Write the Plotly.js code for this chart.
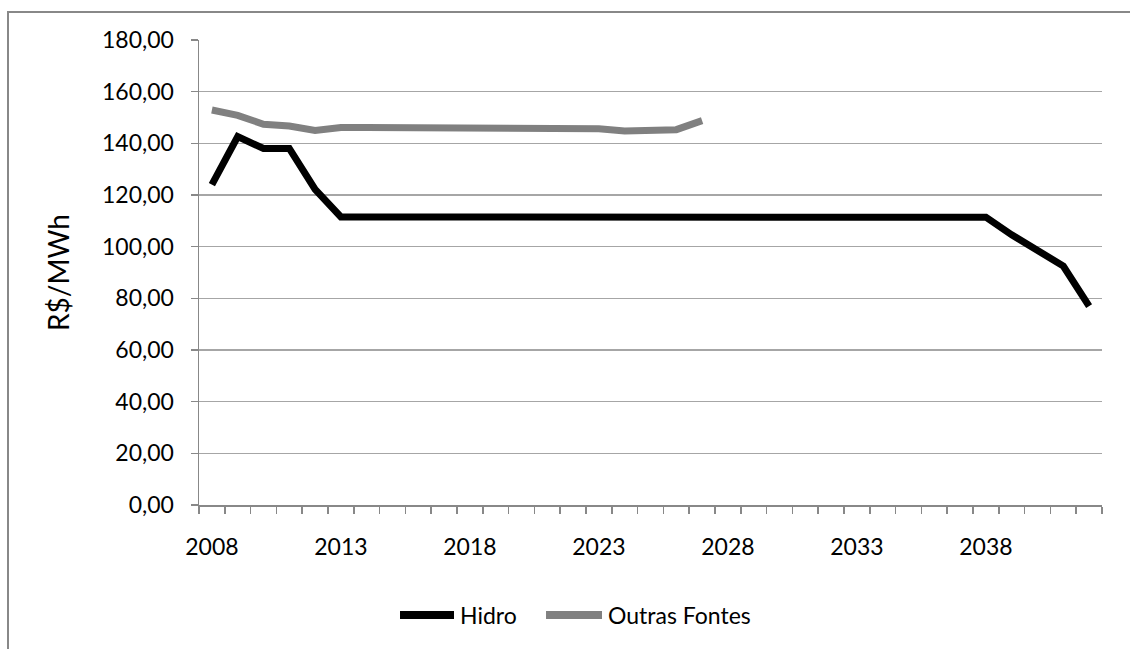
<!DOCTYPE html>
<html>
<head>
<meta charset="utf-8">
<script src="https://cdn.plot.ly/plotly-3.0.1.min.js"></script>
<style>
html,body{margin:0;padding:0;background:#fff;overflow:hidden;}
#frame{position:absolute;left:7px;top:11px;width:2000px;height:2000px;border:2px solid #888;box-sizing:border-box;}
#chart{position:absolute;left:0;top:0;width:1130px;height:649px;}
</style>
</head>
<body>
<div id="frame"></div>
<div id="chart"></div>
<script>
const years = [2008,2009,2010,2011,2012,2013,2014,2015,2016,2017,2018,2019,2020,2021,2022,2023,2024,2025,2026,2027,2028,2029,2030,2031,2032,2033,2034,2035,2036,2037,2038,2039,2040,2041,2042];
const hidro = [124.0,142.6,138.0,138.0,122.2,111.5,111.5,111.5,111.5,111.5,111.5,111.5,111.5,111.5,111.5,111.5,111.5,111.5,111.5,111.5,111.5,111.5,111.5,111.5,111.5,111.5,111.5,111.5,111.5,111.5,111.4,104.6,98.5,92.5,77.0];
const outrasYears = [2008,2009,2010,2011,2012,2013,2014,2015,2016,2017,2018,2019,2020,2021,2022,2023,2024,2025,2026,2027];
const outras = [152.9,150.8,147.4,146.7,145.0,146.1,146.1,146.1,146.1,146.1,146.1,146.1,146.1,146.1,146.1,145.6,144.8,145.0,145.3,148.8];
const xTickVals = [2008,2013,2018,2023,2028,2033,2038];
const xTickText = ['2008','2013','2018','2023','2028','2033','2038'];
const yTickVals = [0,20,40,60,80,100,120,140,160,180];
const yTitle = 'R$/MWh';
const names = ['Hidro','Outras Fontes'];
const colors = ['#000000','#808080'];

const FONT = 'Lato, "Open Sans", sans-serif';
const traces = [
  {x: years, y: hidro, name: names[0], type: 'scatter', mode: 'lines',
   line: {color: colors[0], width: 7}},
  {x: outrasYears, y: outras, name: names[1], type: 'scatter', mode: 'lines',
   line: {color: colors[1], width: 7}}
];

// custom legend (Excel-style long line samples) placed below the plot
const legendY = -0.2366;
const legendItems = [
  {x0: 0.2226, x1: 0.2824, tx: 0.2868},
  {x0: 0.3843, x1: 0.4463, tx: 0.4507}
];
const shapes = legendItems.map((it, i) => ({
  type: 'line', xref: 'paper', yref: 'paper', x0: it.x0, x1: it.x1, y0: legendY, y1: legendY,
  line: {color: colors[i], width: 8}
}));
const annotations = legendItems.map((it, i) => ({
  xref: 'paper', yref: 'paper', x: it.tx, y: legendY, xanchor: 'left', yanchor: 'middle',
  text: names[i], showarrow: false, font: {family: FONT, size: 23, color: '#000'}
}));

const layout = {
  width: 1130, height: 649,
  paper_bgcolor: 'rgba(0,0,0,0)', plot_bgcolor: 'rgba(0,0,0,0)',
  margin: {l: 199, r: 28, t: 40, b: 144},
  separators: ',.',
  font: {family: FONT, size: 23, color: '#000'},
  showlegend: false,
  shapes: shapes,
  annotations: annotations,
  xaxis: {
    range: [2007.5, 2042.5], tickmode: 'array', tickvals: xTickVals, ticktext: xTickText,
    showgrid: false, zeroline: false, showline: true, linecolor: '#888', linewidth: 1.5,
    ticks: '', ticklabelstandoff: 21, tickfont: {family: FONT, size: 23, color: '#000'},
    minor: {tick0: 2007.5, dtick: 1, ticks: 'outside', ticklen: 7, tickcolor: '#888', tickwidth: 1.5, showgrid: false}
  },
  yaxis: {
    range: [0, 180], tickmode: 'array', tickvals: yTickVals, tickformat: '.2f',
    showgrid: true, gridcolor: '#a6a6a6', gridwidth: 1.3, zeroline: false,
    showline: true, linecolor: '#888', linewidth: 1.5,
    ticks: 'outside', ticklen: 7, tickcolor: '#888', tickwidth: 1.5, ticklabelstandoff: 12,
    tickfont: {family: FONT, size: 23, color: '#000'},
    title: {text: yTitle, font: {family: FONT, size: 28, color: '#000'}, standoff: 24}
  }
};
Plotly.newPlot('chart', traces, layout, {displayModeBar: false, staticPlot: true});
</script>
</body>
</html>
